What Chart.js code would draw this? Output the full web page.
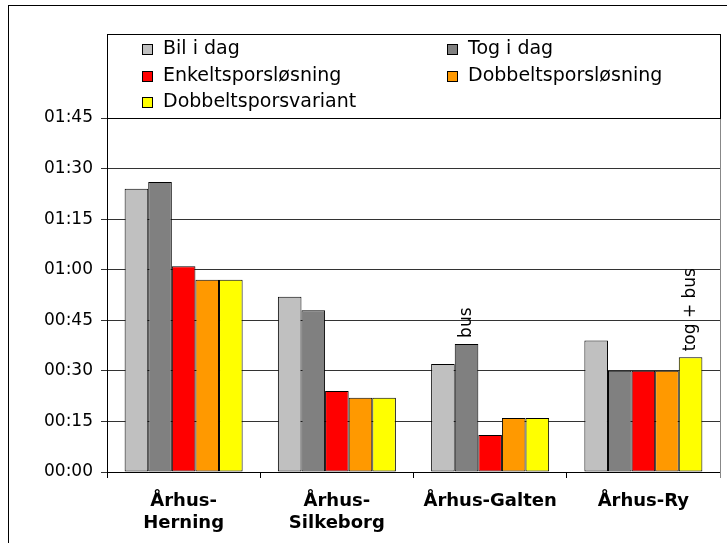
<!DOCTYPE html>
<html>
<head>
<meta charset="utf-8">
<script src="https://cdn.jsdelivr.net/npm/chart.js@4"></script>
<style>
  body { margin: 0; background: #fff; }
  canvas { display: block; }
</style>
</head>
<body>
<canvas id="rejseChart" width="727" height="543"></canvas>
<script>
// Rejsetider i minutter
const ruter = [['Århus-', 'Herning'], ['Århus-', 'Silkeborg'], 'Århus-Galten', 'Århus-Ry'];
const serieNavne = ['Bil i dag', 'Tog i dag', 'Enkeltsporsløsning', 'Dobbeltsporsløsning', 'Dobbeltsporsvariant'];
const bilIDag = [84, 52, 32, 39];
const togIDag = [86, 48, 38, 30];
const enkeltspor = [61, 24, 11, 30];
const dobbeltspor = [57, 22, 16, 30];
const dobbeltVariant = [57, 22, 16, 34];
const farver = ['#C0C0C0', '#808080', '#FF0000', '#FF9900', '#FFFF00'];

// Noter over enkelte søjler: serie, rute, tekst
const noteSerie = [1, 4];
const noteRute = [2, 3];
const noteTekst = ['bus', 'tog + bus'];

const alleSerier = [bilIDag, togIDag, enkeltspor, dobbeltspor, dobbeltVariant];

function tidTekst(min) {
    const h = Math.floor(min / 60);
    const m = min % 60;
    return String(h).padStart(2, '0') + ':' + String(m).padStart(2, '0');
}

// rammen, legendboksen og noterne
const ekstraTegning = {
    id: 'ekstraTegning',
    afterDraw(chart) {
        const ctx = chart.ctx;
        const area = chart.chartArea;
        ctx.save();

        // ydre ramme
        ctx.strokeStyle = '#000';
        ctx.lineWidth = 1;
        ctx.strokeRect(8.5, 5.5, 900, 900);

        // højre kant af plotområdet
        ctx.strokeStyle = '#888';
        ctx.beginPath();
        ctx.moveTo(area.right + 0.5, area.top);
        ctx.lineTo(area.right + 0.5, area.bottom + 6);
        ctx.stroke();

        // legend
        ctx.fillStyle = '#fff';
        ctx.fillRect(area.left, 34, area.right - area.left, area.top - 34);
        ctx.strokeStyle = '#000';
        ctx.strokeRect(area.left + 0.5, 34.5, area.right - area.left, area.top - 34);
        const kolX = [142, 447];
        const raekY = [49, 76, 102];
        ctx.font = '19px "DejaVu Sans"';
        ctx.textBaseline = 'middle';
        ctx.textAlign = 'left';
        chart.data.datasets.forEach((ds, i) => {
            const x = kolX[i % 2];
            const y = raekY[Math.floor(i / 2)];
            ctx.fillStyle = ds.backgroundColor;
            ctx.fillRect(x, y - 5, 11, 11);
            ctx.strokeStyle = '#000';
            ctx.strokeRect(x + 0.5, y - 4.5, 10, 10);
            ctx.fillStyle = '#000';
            ctx.fillText(ds.label, x + 21, y);
        });

        // noter
        ctx.font = '17px "DejaVu Sans"';
        ctx.fillStyle = '#000';
        noteTekst.forEach((t, i) => {
            const el = chart.getDatasetMeta(noteSerie[i]).data[noteRute[i]];
            ctx.save();
            ctx.translate(el.x, el.y - 6);
            ctx.rotate(-Math.PI / 2);
            ctx.textAlign = 'left';
            ctx.textBaseline = 'middle';
            ctx.fillText(t, 0, 0);
            ctx.restore();
        });
        ctx.restore();
    }
};

const ctx = document.getElementById('rejseChart').getContext('2d');
const rejseChart = new Chart(ctx, {
    type: 'bar',
    data: {
        labels: ruter,
        datasets: alleSerier.map((vals, i) => ({
            label: serieNavne[i],
            data: vals,
            backgroundColor: farver[i],
            borderColor: '#000',
            borderWidth: 1,
            borderSkipped: false,
            categoryPercentage: 0.77,
            barPercentage: 1.0
        }))
    },
    options: {
        responsive: false,
        animation: false,
        layout: {
            padding: { top: 118, right: 7, left: 0, bottom: 0 }
        },
        plugins: {
            legend: { display: false },
            tooltip: { enabled: false }
        },
        scales: {
            y: {
                min: 0,
                max: 105,
                afterFit(scale) { scale.width = 107; },
                ticks: {
                    stepSize: 15,
                    color: '#000',
                    padding: 8,
                    font: { family: 'DejaVu Sans', size: 17 },
                    callback: (v) => tidTekst(v)
                },
                grid: {
                    color: '#333',
                    tickLength: 6,
                    lineWidth: 1
                },
                border: { color: '#000', width: 1 }
            },
            x: {
                afterFit(scale) { scale.height = 71; },
                ticks: {
                    color: '#000',
                    padding: 12,
                    maxRotation: 0,
                    autoSkip: false,
                    font: { family: 'DejaVu Sans', size: 18, weight: 'bold', lineHeight: 1.25 }
                },
                grid: {
                    offset: true,
                    drawOnChartArea: false,
                    drawTicks: true,
                    tickLength: 6,
                    color: '#000'
                },
                border: { color: '#000', width: 1 }
            }
        }
    },
    plugins: [ekstraTegning]
});
</script>
</body>
</html>
